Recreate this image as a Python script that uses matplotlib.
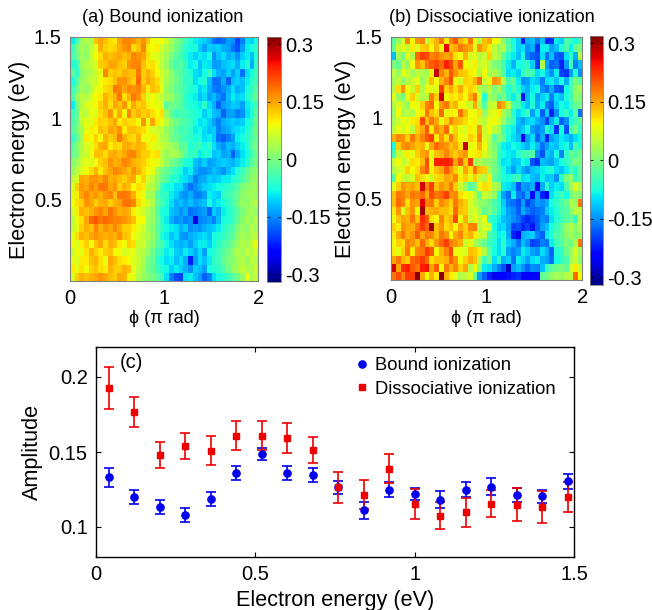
import numpy as np
import matplotlib
matplotlib.use('Agg')
import matplotlib.pyplot as plt
from matplotlib.lines import Line2D

plt.rcParams['font.family'] = ['Liberation Sans', 'DejaVu Sans']

# phase maps, values in units of 0.01, top row is 1.5 eV, left column is phi=0
bound_map = [
    [-9,-4,2,4,3, 13,15,13,11,10, 15,17,17,16,14, 16,13,9,8,9, 6,3,0,-2,-5, -7,-9,-10,-11,-13, -17,-18,-17,-14,-15, -20,-16,-10,-11,-8],
    [-5,0,3,2,5, 8,14,12,11,12, 14,16,17,11,13, 17,10,9,10,6, 4,2,-1,-4,-6, -8,-7,-11,-14,-11, -12,-11,-13,-14,-17, -19,-14,-9,-8,-6],
    [-4,-1,3,1,6, 9,11,14,13,14, 15,13,14,17,16, 15,11,8,7,5, 3,0,-3,-5,-7, -9,-11,-9,-10,-8, -15,-12,-10,-13,-12, -15,-11,-9,-12,-7],
    [-7,-5,2,4,5, 7,12,13,15,15, 13,12,16,17,17, 13,10,11,8,5, 2,-2,-4,-3,-6, -9,-8,-12,-9,-10, -14,-14,-12,-11,-10, -13,-9,-7,-13,-6],
    [-3,-6,1,3,4, 6,8,17,12,13, 12,14,13,13,18, 12,14,12,9,6, 4,1,-2,-4,-5, -7,-10,-11,-8,-5, -10,-13,-14,-11,-14, -11,-17,-10,-8,-5],
    [-8,-3,2,3,6, 5,9,10,11,13, 16,16,14,12,19, 12,15,13,11,7, 3,1,-1,-3,-6, -6,-10,-8,-7,-12, -17,-17,-13,-18,-12, -11,-12,-9,-6,-5],
    [-5,-1,3,2,4, 8,9,11,12,18, 17,15,17,16,17, 14,10,13,12,8, 2,0,-2,-4,-5, -7,-8,-11,-9,-13, -16,-17,-15,-13,-10, -13,-12,-8,-6,-3],
    [-4,2,5,4,7, 9,10,14,12,14, 18,11,14,18,16, 12,7,9,7,5, 3,2,-1,-3,-6, -8,-9,-12,-10,-14, -12,-15,-17,-12,-9, -11,-10,-7,-5,-2],
    [-9,0,4,7,8, 9,12,14,11,15, 13,16,10,15,12, 13,10,9,8,7, -3,0,-2,-3,-6, -7,-8,-9,-6,-10, -13,-18,-14,-13,-11, -12,-14,-9,-7,-5],
    [-5,-2,6,5,9, 7,11,13,16,10, 15,9,17,12,14, 12,13,11,9,11, 2,-2,-5,-4,-5, -6,-7,-8,-11,-9, -12,-13,-18,-14,-14, -16,-15,-10,-7,-3],
    [-4,-1,5,8,7, 10,12,11,13,15, 10,12,11,11,9, 16,8,15,10,8, 5,1,-1,-3,-4, -5,-8,-10,-9,-11, -14,-16,-13,-12,-11, -12,-11,-8,-6,-2],
    [-3,0,3,8,10, 9,13,12,15,14, 16,10,13,13,12, 11,9,7,6,5, 2,0,-3,-5,-4, -6,-9,-8,-10,-12, -11,-16,-14,-13,-11, -10,-9,-7,-5,-1],
    [-6,-2,3,10,9, 12,9,14,12,13, 18,14,12,11,14, 9,8,10,7,4, 3,-1,-2,-4,-5, -6,-8,-7,-10,-9, -11,-17,-18,-16,-14, -9,-8,-6,-4,-2],
    [-3,1,4,7,8, 11,14,15,10,12, 11,14,15,13,14, 13,10,8,7,6, 4,3,1,-3,-2, -7,-6,-5,-8,-6, -10,-13,-15,-12,-13, -11,-9,-7,-3,-1],
    [-2,0,5,6,9, 13,13,11,14,15, 13,15,17,17,14, 12,12,10,11,5, 2,4,3,0,-3, -6,-5,-9,-7,-8, -12,-11,-14,-13,-18, -13,-10,-8,-5,-2],
    [1,3,6,8,7, 9,12,13,16,14, 15,17,16,14,13, 12,10,9,8,5, 2,-1,-2,-5,-7, -8,-12,-13,-11,-14, -13,-12,-11,-12,-13, -11,-9,-7,-3,-1],
    [2,5,7,9,11, 14,10,13,15,17, 16,15,13,16,14, 11,9,8,3,0, -2,-4,-6,-8,-11, -9,-13,-15,-15,-14, -12,-13,-15,-12,-10, -7,-5,-2,0,1],
    [5,7,15,14,16, 16,15,17,14,15, 13,12,14,15,9, 12,7,5,2,-1, -3,-7,-7,-9,-10, -12,-16,-14,-13,-11, -12,-11,-9,-9,-7, -6,-4,-1,1,2],
    [7,12,16,15,17, 15,18,18,15,16, 12,14,13,9,11, 10,5,4,1,-5, -8,-8,-10,-10,-14, -17,-15,-13,-11,-10, -9,-8,-7,-6,-5, -3,0,1,2,3],
    [8,10,15,17,15, 16,14,16,17,13, 18,18,17,14,10, 8,3,3,-3,-6, -6,-9,-11,-14,-15, -13,-16,-16,-14,-9, -10,-11,-6,-5,-3, -2,1,2,3,2],
    [9,11,12,16,15, 12,14,15,12,14, 15,18,18,17,11, 8,7,4,-2,-4, -7,-10,-13,-12,-14, -12,-14,-13,-12,-8, -11,-9,-8,-6,-4, -1,2,1,3,4],
    [7,10,14,13,14, 16,17,15,18,16, 14,15,14,10,8, 6,4,2,-3,-7, -8,-12,-13,-15,-13, -17,-16,-15,-14,-18, -11,-13,-9,-7,-5, -3,0,2,3,2],
    [5,9,11,15,19, 20,18,19,18,17, 17,16,15,13,9, 9,3,2,-2,-6, -9,-13,-15,-14,-16, -15,-26,-16,-15,-14, -16,-12,-8,-7,-5, -2,1,3,2,4],
    [6,8,12,14,13, 17,14,16,15,17, 15,12,12,10,8, 6,3,1,-3,-5, -8,-9,-10,-13,-11, -15,-14,-15,-13,-12, -11,-9,-7,-5,-3, 0,2,1,4,3],
    [8,11,14,13,15, 16,15,14,15,14, 16,13,12,9,7, 5,4,2,-2,-7, -9,-12,-10,-14,-15, -13,-12,-11,-10,-12, -8,-7,-6,-4,-2, 1,3,2,4,5],
    [9,7,10,12,9, 13,15,11,14,13, 10,9,12,11,6, 6,3,1,-3,-4, -8,-10,-12,-13,-12, -14,-11,-9,-9,-11, -8,-6,-4,-3,0, 2,4,3,5,8],
    [6,9,8,11,14, 12,10,12,13,9, 9,7,8,8,5, 4,2,-1,-5,-6, -9,-8,-11,-12,-9, -11,-13,-10,-14,-8, -7,-5,-3,-1,2, 4,3,5,4,6],
    [8,7,10,10,13, 14,11,8,15,13, 11,10,9,7,6, 3,0,-2,-6,-8, -10,-9,-12,-10,-13, -22,-14,-10,-12,-9, -6,-5,-2,0,1, 3,4,2,5,4],
    [10,8,11,9,12, 13,11,10,14,12, 12,14,13,8,5, 3,-1,-2,-5,-7, -8,-11,-9,-11,-13, -15,-11,-12,-14,-8, -7,-6,-4,-1,2, 3,5,4,3,6],
    [7,12,14,13,14, 15,16,15,13,12, 15,14,9,8,4, 2,1,-1,-3,-5, -10,-16,-19,-20,-10, -9,-12,-14,-18,-16, -10,-8,-7,-5,-3, -1,2,8,3,5],
]
diss_map = [
    [-3,2,7,17,9, 16,17,5,11,14, 18,10,17,20,14, 11,18,8,4,13, 15,9,7,1,-4, -8,-11,-22,-13,-12, -16,-12,-22,-21,-9, -11,-4,-6,-8,-5],
    [-2,6,8,5,10, 7,12,13,9,14, 9,26,13,15,18, 16,15,8,16,13, 10,5,2,4,-3, -7,-11,-10,-15,-13, -21,-9,-9,-14,-12, -7,-4,-9,-2,0],
    [-12,3,-1,8,4, 19,22,21,17,18, 16,15,16,11,9, 14,7,8,4,6, 12,5,3,-2,-7, -9,-12,-8,-16,-18, -19,-10,-17,-12,-18, -19,-10,-6,-13,4],
    [0,-2,5,1,9, 16,13,18,20,21, 19,24,21,15,20, 9,8,10,5,7, 4,0,-1,-4,-9, -13,-8,-7,-6,-11, -20,4,-14,-18,-17, -22,-14,-5,-16,-12],
    [5,2,8,6,3, 5,4,3,10,28, 17,14,20,16,13, 12,10,8,4,9, 3,4,1,-3,-10, -9,-11,-6,-3,-5, -10,-8,-12,-15,-9, -20,-21,-14,-7,-15],
    [3,5,1,4,6, 8,2,6,13,9, 14,17,21,9,7, 12,11,14,19,6, 8,16,15,4,-4, -2,-9,-15,-14,-10, -12,-16,-10,-9,-12, -8,-13,-5,0,-3],
    [4,11,16,9,6, 12,4,9,7,8, 22,12,15,11,15, 10,12,10,4,2, 5,0,3,-2,-7, -4,-7,-11,-13,-9, -8,-15,-17,-13,-18, -19,-8,-4,1,3],
    [8,2,-1,8,12, 7,4,5,17,12, 27,9,11,10,12, 9,14,18,7,-7, 3,1,-3,0,-6, -9,-5,-23,-12,-8, -14,-11,-9,-16,-10, -12,-7,-5,2,0],
    [4,7,5,1,9, 8,12,17,19,9, 16,18,12,14,9, 8,6,15,4,-3, 5,6,17,14,5, -4,-5,-9,-12,-7, -13,-9,-16,-18,-11, -8,-9,-5,-2,-1],
    [2,9,3,5,4, 9,10,18,13,11, 19,8,10,9,18, 13,9,8,11,2, 6,8,10,3,0, -7,-10,-8,-5,-14, -9,-18,-11,-22,-15, -8,-6,-9,-3,-17],
    [3,6,9,7,10, 11,21,13,18,15, 8,12,17,14,13, 11,9,10,6,5, 8,9,6,2,-3, -5,-12,-14,-11,-10, -13,-15,-20,-13,-9, -18,-15,-7,-5,-3],
    [5,8,7,9,5, 12,15,20,10,17, 14,19,9,12,8, 7,10,8,16,6, 9,5,3,-4,-7, -9,-13,-11,-8,-14, -16,-14,-7,-10,-21, -8,-19,-4,0,-6],
    [14,17,16,12,18, 14,17,20,22,10, 16,11,18,13,9, 8,12,10,17,7, 5,-3,1,-2,-8, -10,-12,-24,-14,-10, -18,-13,-22,-14,-12, -9,-11,-13,-10,-8],
    [-8,12,16,17,15, 13,14,9,15,19, 17,16,13,15,11, 28,8,9,14,9, 3,0,-5,-9,-10, -8,-9,-11,-13,-9, -12,-17,-14,-11,-12, -9,-8,-12,-4,-7],
    [-4,5,7,10,8, 12,15,16,8,13, 14,17,14,12,15, 16,9,10,11,7, 4,1,-6,-8,-9, -10,-7,-4,-5,-3, -15,-19,-11,-13,-8, -16,-6,-2,-4,-1],
    [6,9,5,7,11, 10,13,21,9,24, 24,24,23,15,20, 12,22,3,4,2, 1,0,-6,-10,-9, -12,-11,-8,-9,-19, -21,-12,-13,-14,-11, -8,-6,-3,0,-1],
    [4,6,8,12,9, 11,17,20,10,13, 15,20,16,12,8, 15,11,18,13,12, 3,-1,-4,-8,-11, -14,-10,-13,-15,-12, -11,-9,-8,-7,-10, -12,-9,-4,-7,-2],
    [-3,9,6,5,7, 13,11,9,6,11, 12,15,14,17,10, 12,8,12,6,4, 10,-2,-5,-7,-8, -6,-5,-10,-9,-12, -13,-9,-12,-11,-15, -7,0,2,-6,-3],
    [8,12,16,14,15, 13,27,17,22,13, 16,14,18,12,6, 2,-3,-1,9,11, 10,4,2,-9,-10, -12,-19,-14,-15,-13, -24,-13,-7,-11,-9, -10,-4,3,7,4],
    [13,18,17,15,18, 17,19,14,21,18, 19,22,16,17,11, 9,8,5,-2,6, 4,2,-8,-14,-17, -9,-16,-18,-13,-24, -14,-22,-24,-10,-7, -5,-8,-1,2,0],
    [13,19,17,11,16, 15,26,17,18,12, 17,15,12,18,14, 12,7,4,2,1, -1,-4,-6,-11,-16, -17,-19,-14,-20,-17, -14,-15,-13,-8,-6, -4,-2,4,2,18],
    [10,16,7,13,16, 9,30,13,14,15, 13,13,11,19,13, 12,6,7,3,-2, 0,-3,-7,-10,-14, -15,-18,-13,-16,-18, -17,-16,-11,-9,-7, -4,-3,1,5,4],
    [9,13,15,14,18, 13,23,20,11,9, 17,12,14,21,9, 14,6,8,5,8, -5,-7,-9,-12,-13, -15,-17,-20,-22,-20, -18,-15,-16,-10,-7, -5,-3,-2,-6,4],
    [12,10,16,15,14, 18,22,19,30,13, 16,11,13,9,15, 12,17,18,4,7, 6,-8,-11,-10,-14, -20,-19,-22,-20,-23, -18,-14,-12,-8,-5, -3,2,4,1,3],
    [10,15,18,14,16, 20,15,18,17,13, 18,16,9,15,17, 12,14,10,6,5, -4,-6,-9,-8,-13, -22,-25,-13,-12,-11, -16,-18,-9,-7,-4, -2,1,3,0,2],
    [9,12,11,17,16, 13,19,14,11,16, 19,22,17,16,14, 6,8,3,1,-2, -5,-7,-10,-6,-11, -13,-17,-12,-15,-20, -19,-16,-17,-9,-5, -3,0,-1,4,18],
    [10,8,12,18,10, 17,18,22,20,9, 14,17,21,9,8, 7,13,12,10,4, -3,-8,-10,-7,-14, -16,-14,-9,-11,-14, -15,-10,-13,-18,-7, -6,-1,2,7,2],
    [15,18,14,12,19, 20,22,19,11,13, 13,14,19,16,9, 12,15,13,4,-5, -1,-10,-6,-13,-11, -17,-9,-11,-14,-10, -9,-13,-14,-17,-8, -6,-4,3,6,1],
    [27,15,23,24,20, 18,24,25,15,20, 9,18,14,17,12, 15,4,9,1,-9, -10,-13,-16,-19,-28, -14,-12,-15,-18,-15, -16,-12,-5,-3,-1, 0,-2,7,10,6],
    [18,21,17,22,22, 31,15,9,14,10, 31,14,10,8,4, 5,7,-2,-14,-18, -22,-26,-25,-24,-23, -22,-21,-24,-25,-24, -25,-2,-1,2,3, 2,4,5,19,9],
]

energy = [0.04, 0.12, 0.20, 0.28, 0.36, 0.44, 0.52, 0.60, 0.68, 0.76,
          0.84, 0.92, 1.00, 1.08, 1.16, 1.24, 1.32, 1.40, 1.48]
bound_amp = [0.1333, 0.120, 0.1134, 0.108, 0.1188, 0.136, 0.1485, 0.136, 0.1347, 0.1266,
             0.1112, 0.125, 0.1217, 0.1183, 0.125, 0.127, 0.1212, 0.1204, 0.1304]
bound_err = [0.0063, 0.0044, 0.0048, 0.0046, 0.0047, 0.0048, 0.004, 0.0048, 0.0048, 0.0044,
             0.0056, 0.0047, 0.004, 0.0058, 0.005, 0.0057, 0.0048, 0.0045, 0.0048]
diss_amp = [0.1928, 0.1765, 0.148, 0.154, 0.151, 0.161, 0.161, 0.1593, 0.1512, 0.1266,
            0.1215, 0.139, 0.1154, 0.1076, 0.1098, 0.1154, 0.1148, 0.1134, 0.12]
diss_err = [0.0138, 0.01, 0.0085, 0.0087, 0.0098, 0.0099, 0.0099, 0.0102, 0.0086, 0.0104,
            0.0098, 0.0096, 0.01, 0.009, 0.0096, 0.009, 0.011, 0.0108, 0.01]

W, H = 652, 610
FS = 14.5    # tick labels
LS = 15.6    # axis labels


def box(l, t, r, b):
    # pixel box to figure fractions
    return [l / W, 1 - b / H, (r - l) / W, (b - t) / H]


fig = plt.figure(figsize=(W / 100, H / 100), dpi=100)


def phase_map(values, rect, cbar_rect, title, title_x, label_x):
    ax = fig.add_axes(box(*rect))
    data = np.array(values) / 100
    im = ax.imshow(data, cmap='jet', vmin=-0.32, vmax=0.32, aspect='auto',
                   extent=[0, 2, 0, 1.5], interpolation='nearest')
    ax.set_xticks([0, 1, 2])
    ax.set_xticklabels(['0', '1', '2'])
    ax.set_yticks([0.5, 1, 1.5])
    ax.set_yticklabels(['0.5', '1', '1.5'])
    ax.tick_params(length=0, labelsize=FS, pad=6)
    for s in ax.spines.values():
        s.set_color('#808080')
        s.set_linewidth(0.8)
    ax.set_xlabel('\u03d5 (\u03c0 rad)', fontsize=13)
    ax.xaxis.set_label_coords(0.5, -0.122)
    ax.set_ylabel('Electron energy (eV)', fontsize=LS)
    ax.yaxis.set_label_coords(label_x, 0.497)
    fig.text(title_x / W, 1 - 17 / H, title, fontsize=13.1, ha='center', va='center')

    cax = fig.add_axes(box(*cbar_rect))
    cb = fig.colorbar(im, cax=cax)
    cb.set_ticks([-0.3, -0.15, 0, 0.15, 0.3])
    cb.set_ticklabels(['-0.3', '-0.15', '0', '0.15', '0.3'])
    cax.tick_params(length=2.5, width=0.6, direction='in', labelsize=FS, pad=3,
                    right=True, left=True)
    cb.outline.set_edgecolor('#808080')
    cb.outline.set_linewidth(0.6)


phase_map(bound_map, (70, 36.7, 258.3, 280.7), (267.3, 36.7, 281, 281.7),
          '(a) Bound ionization', 163, -0.213)
phase_map(diss_map, (390.7, 36.7, 582.3, 280), (590.3, 35.7, 603.3, 285),
          '(b) Dissociative ionization', 492, -0.181)

ax = fig.add_axes(box(96, 347, 574, 557))
ax.errorbar(energy, bound_amp, yerr=bound_err, fmt='o', color='#0000ee', ms=5.2,
            capsize=3.3, elinewidth=1.2, capthick=1.2)
ax.errorbar(energy, diss_amp, yerr=diss_err, fmt='s', color='#ee0000', ms=4.3,
            capsize=3.3, elinewidth=1.2, capthick=1.2)
ax.set_xlim(0, 1.5)
ax.set_ylim(0.08, 0.22)
ax.set_xticks([0, 0.5, 1, 1.5])
ax.set_xticklabels(['0', '0.5', '1', '1.5'])
ax.set_yticks([0.1, 0.15, 0.2])
ax.set_yticklabels(['0.1', '0.15', '0.2'])
ax.tick_params(direction='in', length=3.5, width=0.8, labelsize=FS, top=True, right=True, pad=6)
for s in ax.spines.values():
    s.set_linewidth(1)
ax.set_xlabel('Electron energy (eV)', fontsize=LS)
ax.xaxis.set_label_coords(0.5, -0.155)
ax.set_ylabel('Amplitude', fontsize=LS)
ax.yaxis.set_label_coords(-0.112, 0.5)
ax.text(24 / 478, 1 - 16 / 210, '(c)', fontsize=FS, ha='left', va='center', transform=ax.transAxes)

handles = [Line2D([], [], ls='none', marker='o', color='#0000ee', ms=5.2),
           Line2D([], [], ls='none', marker='s', color='#ee0000', ms=4.3)]
ax.legend(handles, ['Bound ionization', 'Dissociative ionization'], frameon=False,
          fontsize=13.2, loc='upper left', bbox_to_anchor=(0.52, 0.995), handlelength=0.9,
          handletextpad=0.25, labelspacing=0.35, borderaxespad=0.1)

fig.savefig('out.png', dpi=100)
